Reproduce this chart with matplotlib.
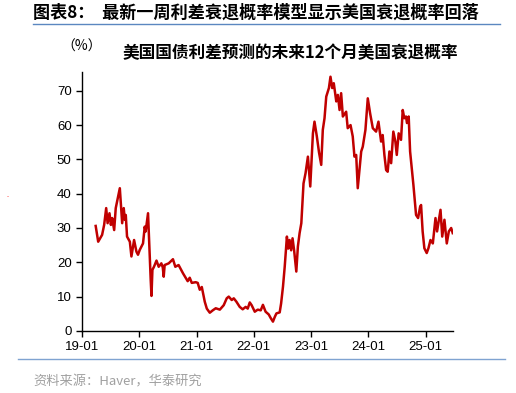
import matplotlib
matplotlib.use("Agg")
import matplotlib.pyplot as plt
import matplotlib.dates as mdates
from matplotlib.lines import Line2D
import pandas as pd

plt.rcParams['font.family'] = ['Liberation Sans', 'Noto Sans CJK SC', 'DejaVu Sans']

# 美国国债利差预测的未来12个月美国衰退概率 (%)
dates = [
    "2019-03-29", "2019-04-14", "2019-05-09", "2019-05-22", "2019-06-04", "2019-06-13",
    "2019-06-25", "2019-07-04", "2019-07-12", "2019-07-25", "2019-08-04", "2019-08-15",
    "2019-08-30", "2019-09-14", "2019-09-24", "2019-10-01", "2019-10-07", "2019-10-15",
    "2019-11-02", "2019-11-12", "2019-11-29", "2019-12-14", "2019-12-24",
    "2020-01-04", "2020-01-25", "2020-02-05", "2020-02-11", "2020-02-26", "2020-03-03",
    "2020-03-14", "2020-03-19", "2020-03-25", "2020-04-04", "2020-04-20", "2020-05-04",
    "2020-05-21", "2020-05-30", "2020-06-05", "2020-06-11", "2020-07-07", "2020-08-03",
    "2020-08-18", "2020-09-08", "2020-10-06", "2020-10-23", "2020-11-05", "2020-11-18",
    "2020-12-01", "2020-12-26",
    "2021-01-08", "2021-01-21", "2021-02-03", "2021-02-22", "2021-03-07", "2021-03-26",
    "2021-04-14", "2021-05-03", "2021-05-29", "2021-06-23", "2021-07-12", "2021-07-25",
    "2021-08-13", "2021-08-26", "2021-09-12", "2021-10-03", "2021-10-22", "2021-11-10",
    "2021-11-23", "2021-12-06", "2021-12-18",
    "2022-01-07", "2022-01-26", "2022-02-14", "2022-02-28", "2022-03-17", "2022-04-06",
    "2022-04-18", "2022-05-03", "2022-05-14", "2022-05-25", "2022-06-15", "2022-06-24",
    "2022-07-06", "2022-07-17", "2022-07-31", "2022-08-08", "2022-08-17", "2022-08-27",
    "2022-09-05", "2022-09-15", "2022-09-29", "2022-10-09", "2022-10-20", "2022-10-31",
    "2022-11-14", "2022-11-27", "2022-12-12", "2022-12-27",
    "2023-01-13", "2023-01-23", "2023-02-07", "2023-02-21", "2023-03-07", "2023-03-17",
    "2023-03-28", "2023-04-08", "2023-04-25", "2023-05-05", "2023-05-16", "2023-05-26",
    "2023-06-11", "2023-06-21", "2023-07-02", "2023-07-12", "2023-07-23", "2023-08-13",
    "2023-08-23", "2023-09-10", "2023-09-24", "2023-10-05", "2023-10-16", "2023-10-26",
    "2023-11-06", "2023-11-17", "2023-11-27", "2023-12-14", "2023-12-29",
    "2024-01-13", "2024-01-30", "2024-02-20", "2024-03-06", "2024-03-23", "2024-04-02",
    "2024-04-13", "2024-04-24", "2024-05-04", "2024-05-15", "2024-05-26", "2024-06-09",
    "2024-06-22", "2024-07-01", "2024-07-13", "2024-07-28", "2024-08-08", "2024-08-18",
    "2024-08-29", "2024-09-04", "2024-09-15", "2024-09-24", "2024-10-07", "2024-10-15",
    "2024-11-01", "2024-11-14", "2024-11-27", "2024-12-03", "2024-12-13", "2024-12-24",
    "2025-01-08", "2025-01-19", "2025-02-01", "2025-02-16", "2025-03-05", "2025-03-15",
    "2025-04-06", "2025-04-17", "2025-05-01", "2025-05-16", "2025-05-29", "2025-06-13",
    "2025-06-23",
]
values = [
    30.6, 26.0, 28.0, 30.9, 35.8, 31.4,
    34.3, 30.9, 32.9, 29.4, 35.8, 38.2,
    41.6, 31.4, 35.8, 32.4, 33.8, 27.5,
    26.0, 21.7, 26.5, 23.1, 22.2,
    23.6, 25.5, 30.4, 29.0, 34.3, 27.5,
    14.9, 10.2, 17.8, 18.7, 20.5, 18.7,
    19.7, 18.5, 15.8, 19.2, 19.7, 20.9,
    18.7, 19.2, 16.8, 15.5, 14.5, 15.5,
    14.0, 14.2,
    14.0, 12.0, 12.8, 8.5, 6.5, 5.3,
    6.0, 6.6, 6.2, 7.5, 9.5, 10.0,
    9.0, 9.5, 8.5, 7.0, 6.3, 7.0,
    6.5, 8.3, 7.5,
    5.6, 6.2, 6.0, 7.6, 5.6, 4.8,
    3.8, 2.7, 4.0, 5.1, 5.4, 8.0,
    12.9, 18.7, 27.5, 24.0, 26.5, 23.5,
    27.0, 23.5, 17.3, 24.6, 28.5, 31.4,
    43.0, 46.0, 50.8, 42.1,
    57.6, 61.0, 56.7, 52.0, 48.4, 58.6,
    62.0, 68.3, 70.8, 74.1, 70.8, 72.2,
    66.9, 68.8, 64.4, 69.3, 62.5, 63.9,
    59.1, 60.0, 56.7, 50.8, 51.3, 41.6,
    46.9, 52.3, 53.7, 58.6, 67.8,
    63.4, 59.1, 58.1, 61.0, 55.2, 57.1,
    51.3, 46.9, 46.4, 52.3, 48.9, 58.1,
    55.2, 51.3, 57.6, 55.7, 64.4, 62.0,
    62.5, 60.6, 62.5, 52.3, 46.4, 42.6,
    33.8, 32.9, 36.2, 36.7, 29.0, 24.1,
    22.7, 24.1, 26.5, 25.5, 32.9, 29.0,
    35.3, 27.5, 32.4, 25.5, 29.0, 30.0,
    28.5,
]
xticks = ["2019-01-01", "2020-01-01", "2021-01-01", "2022-01-01",
          "2023-01-01", "2024-01-01", "2025-01-01"]
yticks = [0, 10, 20, 30, 40, 50, 60, 70]

cjk = ["Noto Sans CJK SC", "DejaVu Sans"]

fig = plt.figure(figsize=(5.16, 3.93), dpi=100)
ax = fig.add_axes([0.159, 0.158, 0.719, 0.659])

ax.plot(pd.to_datetime(dates), values, color="#C00000", lw=1.8)

ax.set_xlim(pd.Timestamp("2019-01-01"), pd.Timestamp("2025-06-25"))
ax.set_ylim(0, 75.5)
ax.set_xticks(pd.to_datetime(xticks))
ax.xaxis.set_major_formatter(mdates.DateFormatter("%y-%m"))
ax.set_yticks(yticks)
ax.tick_params(axis="both", labelsize=9.5, length=4, width=1, color="black", direction="out")
for s in ["top", "right"]:
    ax.spines[s].set_visible(False)
for s in ["left", "bottom"]:
    ax.spines[s].set_linewidth(1)

# titles and notes
fig.text(0.064, 0.968, "图表8：  最新一周利差衰退概率模型显示美国衰退概率回落",
         fontsize=12.3, fontweight="bold", va="center", ha="left", family=cjk)
fig.add_artist(Line2D([0.064, 0.969], [0.939, 0.939], color="#5B87C0", lw=1))
fig.text(0.118, 0.88, "（%）", fontsize=10, va="center", ha="left", family=cjk)
fig.text(0.238, 0.866, "美国国债利差预测的未来12个月美国衰退概率",
         fontsize=12, fontweight="bold", va="center", ha="left", family=cjk)
fig.add_artist(Line2D([0.035, 0.979], [0.087, 0.087], color="#7FA3D1", lw=1))
fig.text(0.064, 0.028, "资料来源：Haver，华泰研究", fontsize=9.5, color="#A0A0A0",
         va="center", ha="left", family=cjk)
fig.text(0.012, 0.503, "..", fontsize=4, color="red", va="center")

fig.savefig("out.png", dpi=100)
